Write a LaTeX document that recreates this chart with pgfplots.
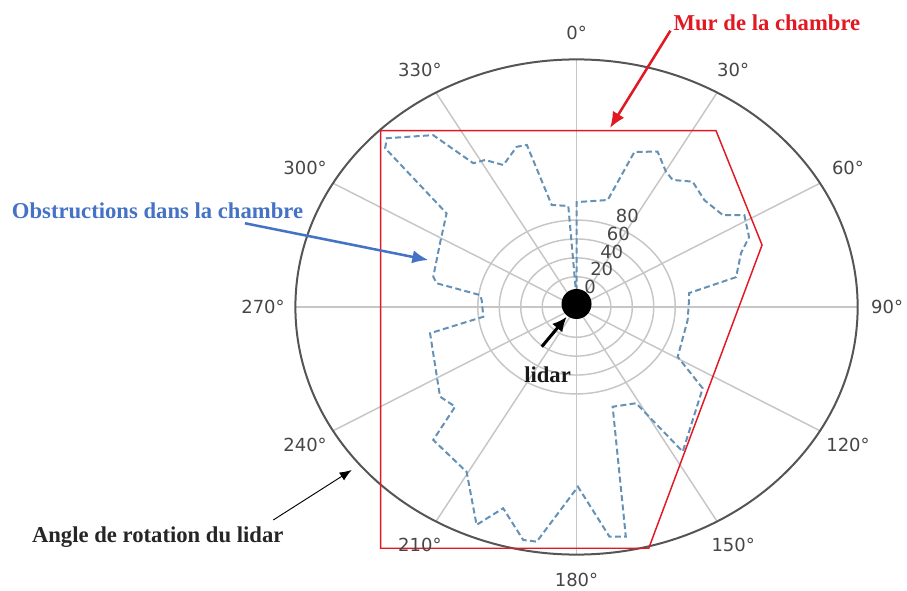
\documentclass[border=0pt]{standalone}
\usepackage{pgfplots}
\pgfplotsset{compat=1.18}
\usepackage{fontspec}
\setmainfont{Liberation Serif}
\newfontfamily\dejavu{DejaVu Sans}
\usetikzlibrary{arrows.meta}
\definecolor{gridc}{RGB}{198,198,198}
\definecolor{outerc}{RGB}{85,85,85}
\definecolor{obsc}{RGB}{100,145,182}
\definecolor{wallc}{RGB}{225,25,35}
\definecolor{bluetxt}{RGB}{68,114,196}
\definecolor{labc}{RGB}{70,70,70}
\begin{document}
\begin{tikzpicture}
\begin{axis}[
  scale only axis, width=680.25pt, height=442.5pt,
  xmin=-537.3, xmax=308.0, ymin=-299.5, ymax=324.9,
  hide axis, clip=false,
]
\path (rel axis cs:0,0) rectangle (rel axis cs:1,1);
% grid rings (r = 0,20,40,60,80; origin offset 12)
\draw[gridc, line width=1.1pt] (axis cs:0,0) ellipse[x radius=9.66pt, y radius=8.51pt];
\draw[gridc, line width=1.1pt] (axis cs:0,0) ellipse[x radius=25.75pt, y radius=22.68pt];
\draw[gridc, line width=1.1pt] (axis cs:0,0) ellipse[x radius=41.85pt, y radius=36.86pt];
\draw[gridc, line width=1.1pt] (axis cs:0,0) ellipse[x radius=57.94pt, y radius=51.03pt];
\draw[gridc, line width=1.1pt] (axis cs:0,0) ellipse[x radius=74.04pt, y radius=65.21pt];
% spokes
\draw[gridc, line width=1.1pt] (axis cs:0,262) -- (axis cs:0,-262);
\draw[gridc, line width=1.1pt] (axis cs:131,226.9) -- (axis cs:-131,-226.9);
\draw[gridc, line width=1.1pt] (axis cs:226.9,131) -- (axis cs:-226.9,-131);
\draw[gridc, line width=1.1pt] (axis cs:262,0) -- (axis cs:-262,0);
\draw[gridc, line width=1.1pt] (axis cs:226.9,-131) -- (axis cs:-226.9,131);
\draw[gridc, line width=1.1pt] (axis cs:131,-226.9) -- (axis cs:-131,226.9);
% outer circle
\draw[outerc, line width=1.5pt] (axis cs:0,0) ellipse[x radius=210.84pt, y radius=185.69pt];
% obstructions (compass angle in degrees, range)
\addplot[obsc, line width=1.5pt, dash pattern=on 4.5pt off 2.5pt, data cs=polar, mark=none]
  table[x expr={90-\thisrow{ang}}, y expr={\thisrow{r}+12}] {
ang r
0 5
0 99
14.4 104.9
18.2 160.9
24.7 168.9
30.2 153.7
33.7 149.6
39.2 159.2
46.5 152.3
54.5 155.5
58.1 172.2
65.3 165.0
69.6 151.6
78.0 140.0
82.0 93.9
86.0 93.1
97.6 92.5
119.2 96.0
126.2 133.7
147.1 170.3
151.4 104.0
162.3 98.8
169.3 235.4
172.8 233.0
179.6 178.2
188.5 239.1
191.4 239.5
197.8 211.7
202.0 236.7
210.4 190.4
223.5 182.0
227.0 142.7
233.3 146.7
258.5 127.3
263.2 75.5
274.8 76.7
278.0 78.8
280.9 120.7
283.5 125.3
297.9 132.0
309.3 144.5
313.3 233.1
315.3 239.3
323.7 213.7
327.7 168.0
331.3 165.4
335.6 153.0
341.8 166.5
344.9 165.6
347.9 98.4
355.9 95.2
358.0 5
};
% chamber wall
\addplot[wallc, line width=1.1pt, mark=none] coordinates {
(-182.5,186.6) (130.0,186.6) (172.9,65.6) (67.3,-255.3) (-182.5,-255.3) (-182.5,186.6)};
% lidar dot
\fill[black] (axis cs:0,3.2) circle[radius=11.25pt];
% angle labels
\tikzset{anglab/.style={text=labc, font={\dejavu\fontsize{13.5}{16}\selectfont}, inner sep=0pt}}
\node[anglab] at (axis cs:0,290) {0°};
\node[anglab] at (axis cs:146,250.8) {30°};
\node[anglab] at (axis cs:253,147.1) {60°};
\node[anglab] at (axis cs:289.4,0) {90°};
\node[anglab] at (axis cs:253,-146) {120°};
\node[anglab] at (axis cs:146,-251.9) {150°};
\node[anglab] at (axis cs:0,-288.9) {180°};
\node[anglab] at (axis cs:-146,-251.9) {210°};
\node[anglab] at (axis cs:-253,-146) {240°};
\node[anglab] at (axis cs:-292.2,0) {270°};
\node[anglab] at (axis cs:-253,147.1) {300°};
\node[anglab] at (axis cs:-146,250.8) {330°};
% radial labels
\node[anglab] at (axis cs:12.6,21.5) {0};
\node[anglab] at (axis cs:23.5,39.9) {20};
\node[anglab] at (axis cs:32.8,58.5) {40};
\node[anglab] at (axis cs:39.0,76.9) {60};
\node[anglab] at (axis cs:47.3,96.6) {80};
% annotations
\tikzset{annot/.style={font={\bfseries\fontsize{17}{20}\selectfont}, inner sep=0pt}}
\node[annot, text=wallc, anchor=base] at (axis cs:177.5,293.1) {Mur de la chambre};
\node[annot, text=bluetxt, anchor=base west] at (axis cs:-526.4,94.0) {Obstructions dans la chambre};
\node[annot, text=black!85, anchor=base west] at (axis cs:-507.7,-249.0) {Angle de rotation du lidar};
\node[annot, text=black!90, anchor=base] at (axis cs:-27.0,-80.1) {lidar};
\draw[wallc, line width=1.9pt, -{Latex[length=12pt, width=10pt]}] (axis cs:87.5,292.4) -- (axis cs:31.2,189.4);
\draw[bluetxt, line width=1.9pt, -{Latex[length=12pt, width=10pt]}] (axis cs:-309,88.6) -- (axis cs:-138.1,49.7);
\draw[black, line width=2.3pt, -{Latex[length=11pt, width=10pt]}] (axis cs:-32.4,-42) -- (axis cs:-9.1,-10.3);
\draw[black, line width=0.7pt, -{Latex[length=9pt, width=7pt]}] (axis cs:-282.6,-225.4) -- (axis cs:-209.5,-172.5);
\end{axis}
\end{tikzpicture}
\end{document}
